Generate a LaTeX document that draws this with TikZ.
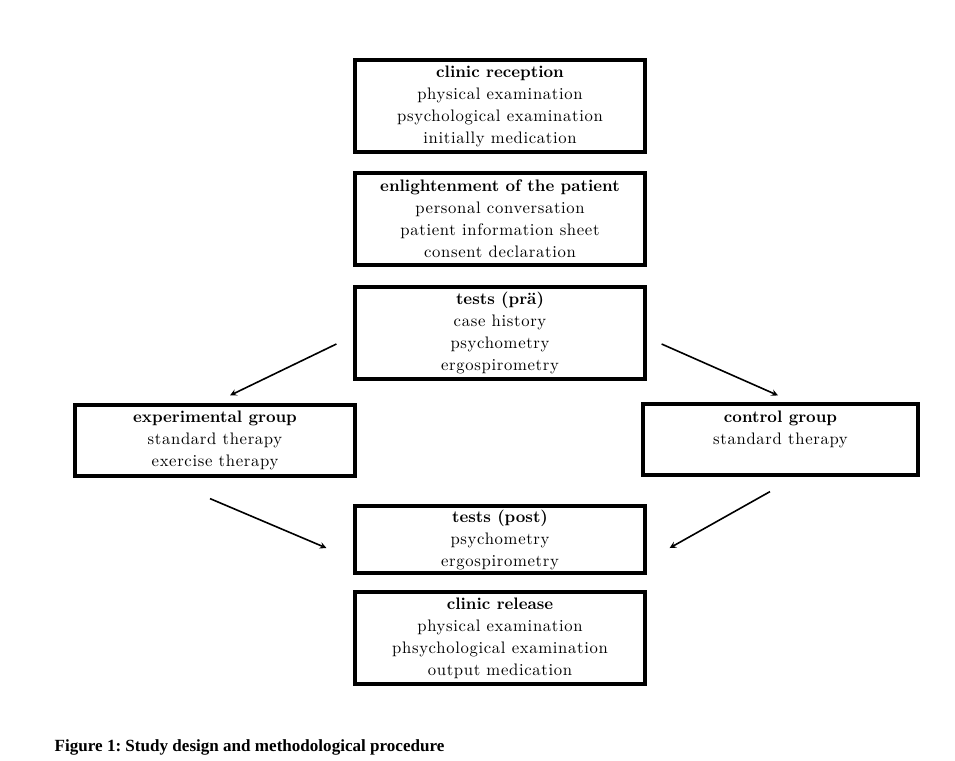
\documentclass[tikz,border=0pt]{standalone}
\usepackage{fontspec}
\newfontfamily\capfont{Liberation Serif}
\newfontfamily\boxfont{lmroman10-regular.otf}[BoldFont=lmroman10-bold.otf, LetterSpace=4, BoldFeatures={LetterSpace=0}]
\usetikzlibrary{positioning, calc}

\tikzset{
    stepbox/.style={draw, line width=2.4pt, align=center, inner sep=0pt,
        font=\boxfont\fontsize{12.5}{16.5}\selectfont},
    flow/.style={->, line width=1.2pt}
}

\begin{document}
\begin{tikzpicture}[x=0.75pt, y=-0.75pt, >=stealth]
\useasboundingbox (0,0) rectangle (955,760);
\node[stepbox, minimum width=217.5pt, minimum height=69pt](reception) at (500,106)
    {\textbf{clinic reception}\\physical examination\\psychological examination\\initially medication};
\node[stepbox, minimum width=217.5pt, minimum height=69pt](enlight) at (500,219)
    {\textbf{enlightenment of the patient}\\personal conversation\\patient information sheet\\consent declaration};
\node[stepbox, minimum width=217.5pt, minimum height=69pt](pre) at (500,333)
    {\textbf{tests (prä)}\\case history\\psychometry\\ergospirometry};
\node[stepbox, minimum width=210pt, minimum height=53.25pt](exp) at (215,440.5)
    {\textbf{experimental group}\\standard therapy\\exercise therapy};
\node[stepbox, minimum width=206.25pt, minimum height=53.25pt, text depth=17pt](ctrl) at (780.5,439.5)
    {\textbf{control group}\\standard therapy};
\node[stepbox, minimum width=217.5pt, minimum height=50.25pt](post) at (500,539.5)
    {\textbf{tests (post)}\\psychometry\\ergospirometry};
\node[stepbox, minimum width=217.5pt, minimum height=69pt](release) at (500,638)
    {\textbf{clinic release}\\physical examination\\phsychological examination\\output medication};

\draw[flow]($(pre.west)+(-17,11)$)--($(exp.north)+(15,-8)$);
\draw[flow]($(pre.east)+(15,11)$)--($(ctrl.north)+(-2.5,-7)$);
\draw[flow]($(exp.south)+(-5,21)$)--($(post.west)+(-27,8.5)$);
\draw[flow]($(ctrl.south)+(-10.5,15)$)--($(post.east)+(23,8.5)$);

\node[anchor=west, font=\capfont\bfseries\fontsize{12.8}{15}\selectfont](caption) at (50,747)
    {Figure 1:\ Study design and methodological procedure};
\end{tikzpicture}
\end{document}
